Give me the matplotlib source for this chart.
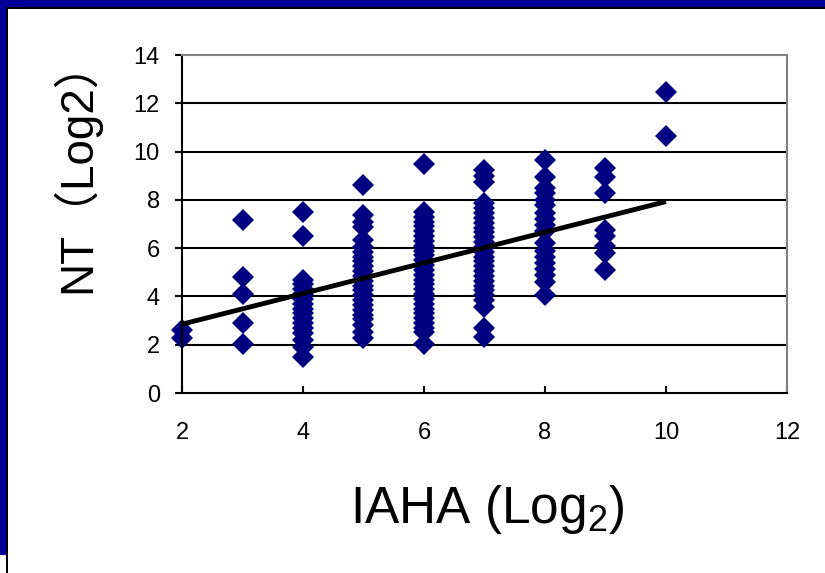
import matplotlib
matplotlib.use("Agg")
import matplotlib.pyplot as plt
from matplotlib.patches import Rectangle

SANS = ["Liberation Sans", "DejaVu Sans"]
plt.rcParams["font.family"] = SANS
plt.rcParams["mathtext.fontset"] = "custom"
plt.rcParams["mathtext.rm"] = "Liberation Sans"
plt.rcParams["mathtext.default"] = "regular"

# IAHA titre (log2) against NT titre (log2), one column per IAHA level
iaha_2 = [2.27, 2.6]
iaha_3 = [2.03, 2.89, 4.1, 4.82, 7.17]
iaha_4 = [7.48, 6.5, 4.68, 4.5, 4.3, 4.1, 3.9, 3.7, 3.5, 3.3, 3.1, 2.9, 2.7,
          2.5, 2.2, 1.9, 1.5]
iaha_5 = [8.6, 7.37, 7.1, 6.89, 6.34, 6.06, 5.85, 5.65, 5.45, 5.25, 5.05,
          4.85, 4.65, 4.45, 4.25, 4.05, 3.85, 3.65, 3.45, 3.25, 3.05, 2.8,
          2.54, 2.27]
iaha_6 = [9.49, 7.51, 7.3, 7.1, 6.9, 6.7, 6.5, 6.3, 6.1, 5.9, 5.7, 5.5, 5.3,
          5.1, 4.9, 4.7, 4.5, 4.3, 4.1, 3.9, 3.7, 3.5, 3.3, 3.1, 2.9, 2.7,
          2.54, 2.03]
iaha_7 = [9.24, 9.0, 8.74, 7.86, 7.65, 7.45, 7.25, 7.05, 6.85, 6.65, 6.45,
          6.25, 6.05, 5.85, 5.65, 5.45, 5.25, 5.05, 4.85, 4.65, 4.45, 4.25,
          4.05, 3.85, 3.57, 2.7, 2.33]
iaha_8 = [9.65, 8.95, 8.5, 8.3, 8.0, 7.8, 7.45, 7.2, 6.95, 6.7, 6.2, 5.9,
          5.65, 5.4, 5.15, 4.9, 4.6, 4.05]
iaha_9 = [9.3, 8.95, 8.3, 6.75, 6.5, 6.1, 5.8, 5.1]
iaha_10 = [12.45, 10.65]

columns = {2: iaha_2, 3: iaha_3, 4: iaha_4, 5: iaha_5, 6: iaha_6,
           7: iaha_7, 8: iaha_8, 9: iaha_9, 10: iaha_10}

# linear trend line end points
trend_x = [2, 10]
trend_y = [2.85, 7.93]

x_ticks = [2, 4, 6, 8, 10, 12]
y_ticks = [0, 2, 4, 6, 8, 10, 12, 14]

W, H = 825, 573
fig = plt.figure(figsize=(W / 100, H / 100), dpi=100)
fig.patch.set_facecolor("white")

# slide frame: blue band along top and left, thin black rule inside it
navy = "#000099"
fig.add_artist(Rectangle((0, 1 - 7 / H), 1, 7 / H, transform=fig.transFigure,
                         facecolor=navy, edgecolor="none", zorder=0))
fig.add_artist(Rectangle((0, 1 - 9 / H), 1, 2 / H, transform=fig.transFigure,
                         facecolor="black", edgecolor="none", zorder=0))
fig.add_artist(Rectangle((0, 1 - 555 / H), 6 / W, 555 / H,
                         transform=fig.transFigure,
                         facecolor=navy, edgecolor="none", zorder=0))
fig.add_artist(Rectangle((6 / W, 0), 2 / W, 1 - 7 / H,
                         transform=fig.transFigure,
                         facecolor="black", edgecolor="none", zorder=0))

ax = fig.add_axes([182 / W, 1 - 393 / H, (787 - 182) / W, (393 - 55) / H])
ax.set_xlim(2, 12)
ax.set_ylim(0, 14)

for yv in y_ticks[1:-1]:
    ax.axhline(yv, color="black", lw=1.5, zorder=1)

for xv, ys in columns.items():
    ax.plot([xv] * len(ys), ys, linestyle="none", marker="D", markersize=11,
            color="#000080", markeredgewidth=0, zorder=2, clip_on=False)

ax.plot(trend_x, trend_y, color="black", lw=3.5, zorder=3,
        solid_capstyle="butt")

ax.set_xticks(x_ticks)
ax.set_yticks(y_ticks)
ax.tick_params(axis="x", direction="in", length=5, width=1.5, pad=21,
               labelsize=17)
ax.tick_params(axis="y", direction="out", length=5, width=1.5, pad=11,
               labelsize=17)

for side in ("left", "bottom"):
    ax.spines[side].set_color("black")
    ax.spines[side].set_linewidth(1.5)
for side in ("top", "right"):
    ax.spines[side].set_color("#808080")
    ax.spines[side].set_linewidth(1.5)

fig.text(487 / W, 1 - 510 / H, "IAHA (Log$_2$)", ha="center", va="center",
         fontsize=37, family=SANS)
fig.text(76 / W, 1 - 166 / H, "NT\uff08Log2\uff09", ha="center",
         va="center", rotation=90, fontsize=33,
         family=["Liberation Sans", "Noto Sans CJK JP", "DejaVu Sans"])

fig.savefig("out.png", dpi=100, facecolor="white")
